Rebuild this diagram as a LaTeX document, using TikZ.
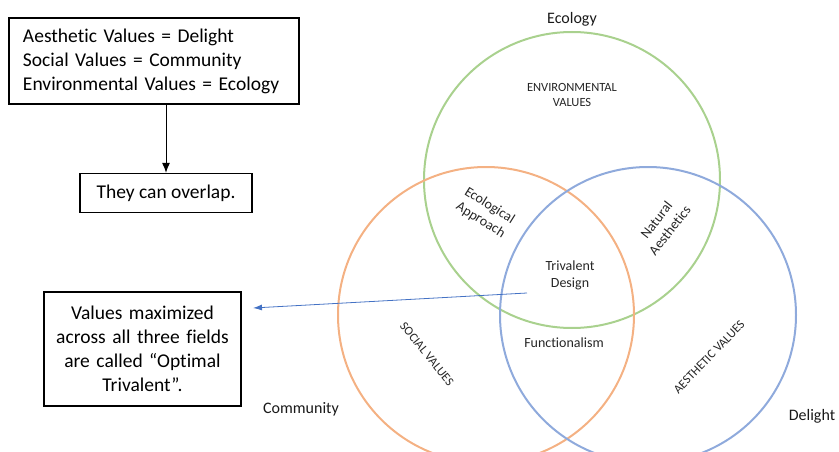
\documentclass[tikz,border=0pt]{standalone}
\usepackage{fontspec}
\setmainfont{Carlito}[Ligatures=NoCommon]
\usetikzlibrary{arrows.meta,positioning}

\definecolor{ecogreen}{HTML}{A9D18E}
\definecolor{socorange}{HTML}{F4B183}
\definecolor{aesblue}{HTML}{8FAADC}
\definecolor{arrblue}{HTML}{4472C4}

\begin{document}
\begin{tikzpicture}[x=1pt,y=-1pt,>=Latex,
  box/.style={draw=black,line width=1.3pt,inner sep=0pt,font=\fontsize{19.5}{24}\selectfont},
  ring/.style={line width=2pt},
  lbl/.style={font=\fontsize{14}{17}\selectfont,align=center,text=black!85},
  caps/.style={font=\fontsize{12.5}{15}\selectfont,align=center,text=black!85},
  field/.style={font=\fontsize{16}{19}\selectfont,text=black!90}]
\useasboundingbox (0,0) rectangle (839,452);
% the three value circles
\draw[ring,ecogreen] (572,180) circle (148pt);
\draw[ring,socorange] (486,315) circle (148pt);
\draw[ring,aesblue] (648,315) circle (148pt);
% field names outside
\node[field] (ecology) at (572,19) {Ecology};
\node[field] (community) at (301,409) {Community};
\node[field] (delight) at (812,416) {Delight};
% labels inside the circles
\node[caps] (envval) at (572,95) {ENVIRONMENTAL\\VALUES};
\node[caps,rotate=-51] (socval) at (427,354) {SOCIAL VALUES};
\node[caps,rotate=46] (aesval) at (709,357) {AESTHETIC VALUES};
\node[lbl,rotate=-32] (ecoappr) at (485,213) {Ecological\\Approach};
\node[lbl,rotate=52] (natural) at (663,225) {Natural\\Aesthetics};
\node[lbl] (trivalent) at (570,275) {Trivalent\\Design};
\node[lbl] (function) at (564,343) {Functionalism};
% note boxes
\node[box,minimum width=290pt,minimum height=86pt,text width=262pt,align=left] (defs) at (154,61) {Aesthetic Values = Delight\\Social Values = Community\\Environmental Values = Ecology};
\node[box,minimum width=172pt,minimum height=39pt] (overlap) at (166,193) {They can overlap.};
\draw[-{Latex[length=10pt,width=8pt]},line width=1pt] (defs.south -| overlap.north) -- (overlap.north);
\node[box,minimum width=197pt,minimum height=114pt,text width=197pt,align=center] (optimal) at (142.5,349) {Values maximized\\across all three fields\\are called “Optimal\\Trivalent”.};
\coordinate (tdtail) at (527,293);
\coordinate (tdhead) at (253,308);
\draw[arrblue,-{Latex[length=9pt,width=6pt]},line width=0.8pt] (tdtail) -- (tdhead);
\end{tikzpicture}
\end{document}
